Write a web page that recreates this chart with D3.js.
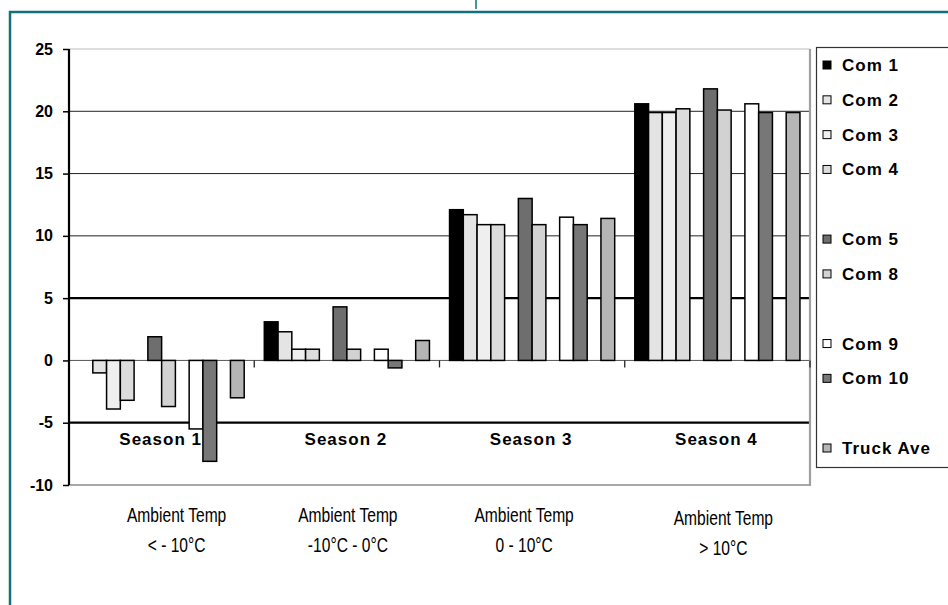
<!DOCTYPE html>
<html>
<head>
<meta charset="utf-8">
<script src="https://cdn.jsdelivr.net/npm/d3@7"></script>
<style>
  body { margin: 0; background: #fff; }
  svg { display: block; }
</style>
</head>
<body>
<div id="chart"></div>
<script>
// categories and labels
const seasons = ["Season 1", "Season 2", "Season 3", "Season 4"];
const tempTitle = "Ambient Temp";
const tempRanges = ["< - 10°C", "-10°C - 0°C", "0 - 10°C", "> 10°C"];
const yTicks = [-10, -5, 0, 5, 10, 15, 20, 25];

// legend / bar slots (null = empty slot kept blank in the original)
const slots = ["Com 1", "Com 2", "Com 3", "Com 4", null, "Com 5", "Com 8", null, "Com 9", "Com 10", null, "Truck Ave"];

// series values, one per season
const com1 = [null, 3.1, 12.1, 20.6];
const com2 = [-1.0, 2.3, 11.7, 19.9];
const com3 = [-3.9, 0.9, 10.9, 19.9];
const com4 = [-3.2, 0.9, 10.9, 20.2];
const com5 = [1.9, 4.3, 13.0, 21.8];
const com8 = [-3.7, 0.9, 10.9, 20.1];
const com9 = [-5.5, 0.9, 11.5, 20.6];
const com10 = [-8.1, -0.6, 10.9, 19.9];
const truckAve = [-3.0, 1.6, 11.4, 19.9];

const seriesValues = {
    "Com 1": com1, "Com 2": com2, "Com 3": com3, "Com 4": com4,
    "Com 5": com5, "Com 8": com8, "Com 9": com9, "Com 10": com10,
    "Truck Ave": truckAve
};

const fills = {
    "Com 1": "#000000", "Com 2": "#e4e4e4", "Com 3": "#efefef", "Com 4": "#dcdcdc",
    "Com 5": "#6e6e6e", "Com 8": "#d2d2d2", "Com 9": "#ffffff", "Com 10": "#777777",
    "Truck Ave": "#b5b5b5"
};

const width = 948, height = 605;
const plot = { left: 69, right: 810, top: 49, bottom: 485 };
const teal = "#14707a";

const svg = d3.select("#chart")
    .append("svg")
    .attr("width", width)
    .attr("height", height);

// teal frame around the slide
svg.append("path")
    .attr("d", `M10,${height} V12 H${width}`)
    .attr("fill", "none")
    .attr("stroke", teal)
    .attr("stroke-width", 2.5);
svg.append("line")
    .attr("x1", 476).attr("x2", 476).attr("y1", 0).attr("y2", 9)
    .attr("stroke", teal).attr("stroke-width", 1.5);

// scales
const y = d3.scaleLinear().domain([-10, 25]).range([plot.bottom, plot.top]);
const x0 = d3.scaleBand().domain(seasons).range([plot.left, plot.right]);
const x1 = d3.scaleBand().domain(d3.range(slots.length))
    .range([0, x0.bandwidth()])
    .paddingInner(0)
    .paddingOuter(0.73);

// gridlines
const gridStyle = {
    "25": ["#bdbdbd", 1.2], "20": ["#222", 1], "15": ["#222", 1], "10": ["#222", 1],
    "5": ["#000", 2.2], "0": ["#555", 1], "-5": ["#000", 2.2], "-10": ["#a8a8a8", 2.2]
};
svg.append("g")
    .selectAll("line")
    .data(yTicks)
    .join("line")
    .attr("x1", plot.left).attr("x2", plot.right)
    .attr("y1", d => y(d)).attr("y2", d => y(d))
    .attr("stroke", d => gridStyle[d][0])
    .attr("stroke-width", d => gridStyle[d][1]);

// right border of the plot
svg.append("line")
    .attr("x1", plot.right).attr("x2", plot.right)
    .attr("y1", plot.top).attr("y2", plot.bottom + 1)
    .attr("stroke", "#a0a0a0")
    .attr("stroke-width", 2.2);

// season boundary ticks under the zero line
svg.append("g")
    .selectAll("line")
    .data(seasons.slice(1).map(s => x0(s)).concat([plot.right]))
    .join("line")
    .attr("x1", d => d).attr("x2", d => d)
    .attr("y1", y(0)).attr("y2", y(0) + 7)
    .attr("stroke", "#222")
    .attr("stroke-width", 1.3);

// bars
const barData = [];
seasons.forEach((s, si) => {
    slots.forEach((name, i) => {
        if (name === null) return;
        const v = seriesValues[name][si];
        if (v === null) return;
        barData.push({ season: s, slot: i, name: name, value: v });
    });
});

svg.append("g")
    .selectAll("rect")
    .data(barData)
    .join("rect")
    .attr("x", d => x0(d.season) + x1(d.slot))
    .attr("y", d => y(Math.max(0, d.value)))
    .attr("width", x1.bandwidth())
    .attr("height", d => Math.abs(y(d.value) - y(0)))
    .attr("fill", d => fills[d.name])
    .attr("stroke", "#000")
    .attr("stroke-width", 1.5);

// y axis
const yAxis = svg.append("g")
    .attr("transform", `translate(${plot.left},0)`)
    .call(d3.axisLeft(y).tickValues(yTicks).tickSize(6).tickPadding(10).tickFormat(d => String(d)));
yAxis.select(".domain")
    .attr("d", `M0,${plot.top}V${plot.bottom}`)
    .attr("stroke", "#000")
    .attr("stroke-width", 2.2);
yAxis.selectAll(".tick line").attr("stroke", "#000").attr("stroke-width", 1.5);
yAxis.selectAll(".tick text")
    .attr("font-family", "Liberation Sans, Arial, sans-serif")
    .attr("font-weight", "bold")
    .attr("font-size", 16)
    .attr("fill", "#000");

// season labels inside the plot
svg.append("g")
    .selectAll("text")
    .data(seasons)
    .join("text")
    .attr("x", d => x0(d) + x0.bandwidth() / 2 - 1)
    .attr("y", y(-5) + 22)
    .attr("text-anchor", "middle")
    .attr("font-family", "Liberation Sans, Arial, sans-serif")
    .attr("font-weight", "bold")
    .attr("font-size", 17)
    .attr("letter-spacing", 1)
    .text(d => d);

// ambient temperature labels below (hand placed in the original, so a small shift each)
const labelShift = [15, 1, -8, 6];
const labelDrop = [0, 0, 0, 3];
const tempGroup = svg.append("g")
    .attr("font-family", "Liberation Sans, Arial, sans-serif")
    .attr("font-size", 19.5)
    .attr("text-anchor", "middle");
seasons.forEach((s, i) => {
    const cx = x0(s) + x0.bandwidth() / 2 + labelShift[i];
    tempGroup.append("text")
        .attr("transform", `translate(${cx},${522 + labelDrop[i]}) scale(0.8,1)`)
        .text(tempTitle);
    tempGroup.append("text")
        .attr("transform", `translate(${cx},${552 + labelDrop[i]}) scale(0.8,1)`)
        .text(tempRanges[i]);
});

// legend
const legendY = d3.scalePoint().domain(d3.range(slots.length)).range([65, 448]);
svg.append("rect")
    .attr("x", 816.5).attr("y", 47.5)
    .attr("width", 150).attr("height", 420)
    .attr("fill", "#fff")
    .attr("stroke", "#333")
    .attr("stroke-width", 1.2);

const legendItems = svg.append("g")
    .selectAll("g")
    .data(slots.map((name, i) => ({ name: name, i: i })).filter(d => d.name !== null))
    .join("g")
    .attr("transform", d => `translate(823,${legendY(d.i)})`);

legendItems.append("rect")
    .attr("x", 0).attr("y", -4)
    .attr("width", 8).attr("height", 8)
    .attr("fill", d => fills[d.name])
    .attr("stroke", "#000")
    .attr("stroke-width", 1);

legendItems.append("text")
    .attr("x", 19)
    .attr("y", 6)
    .attr("font-family", "Liberation Sans, Arial, sans-serif")
    .attr("font-weight", "bold")
    .attr("font-size", 17)
    .attr("letter-spacing", 1)
    .text(d => d.name);
</script>
</body>
</html>
